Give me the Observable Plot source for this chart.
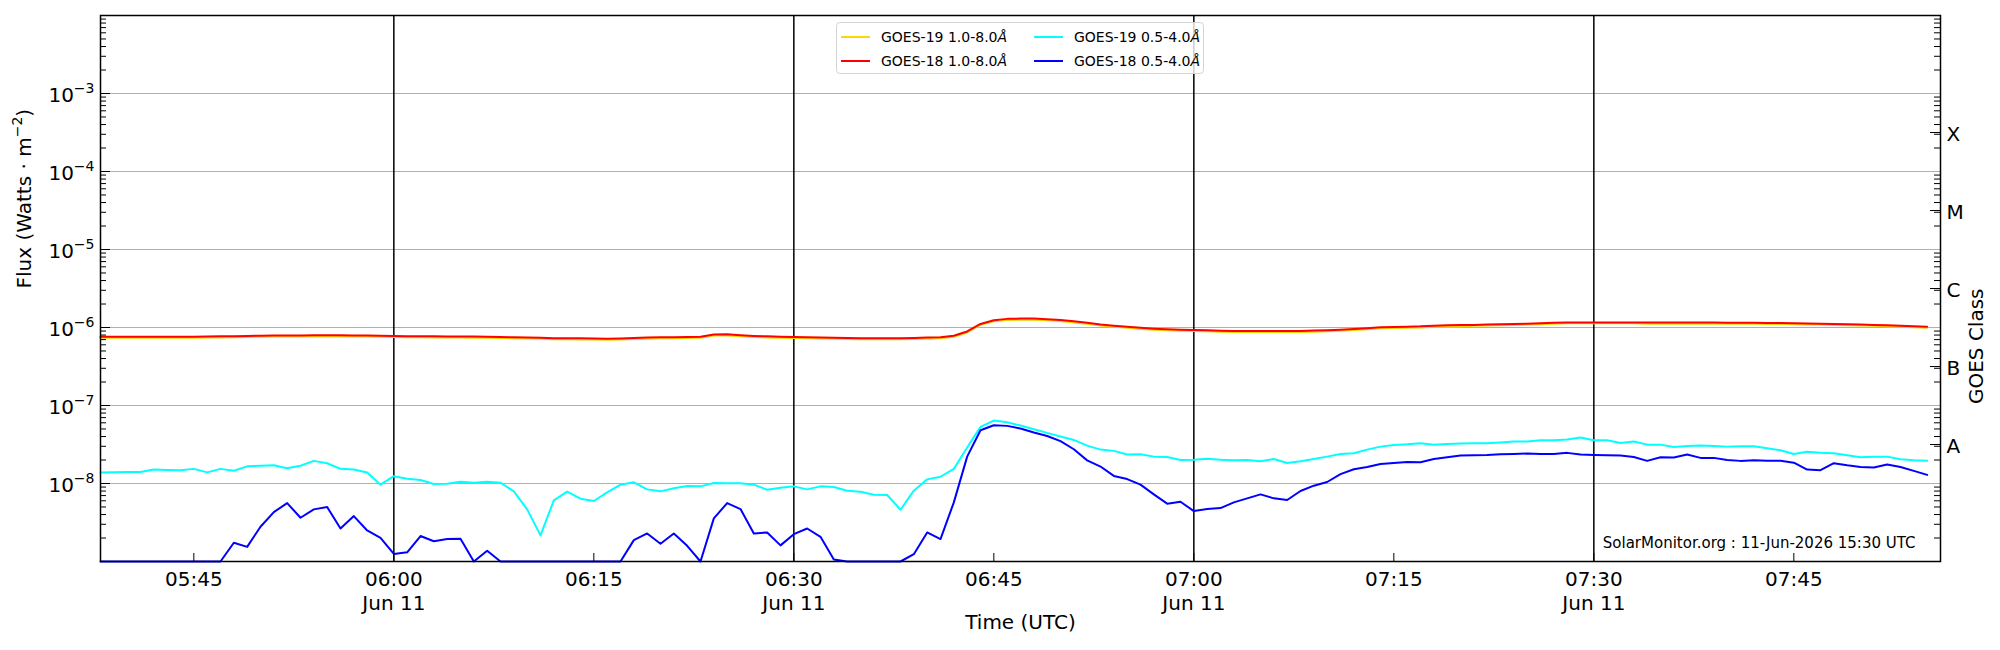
<!DOCTYPE html>
<html>
<head>
<meta charset="utf-8">
<script src="https://cdn.jsdelivr.net/npm/d3@7"></script>
<script src="https://cdn.jsdelivr.net/npm/@observablehq/plot@0.6"></script>
<style>
  body { margin: 0; background: #fff; }
  #wrap { position: relative; width: 2000px; height: 650px; font-family: "DejaVu Sans", sans-serif; color: #000; }
  #legend { position: absolute; left: 836px; top: 22px; width: 366px; height: 50px; border: 1px solid #d4d4d4; border-radius: 4px; background: rgba(255,255,255,0.8); }
  .li { position: absolute; height: 18px; line-height: 18px; font-size: 14px; white-space: nowrap; }
  .sw { position: absolute; height: 2px; }
</style>
</head>
<body>
<div id="wrap"><div id="chart"></div><div id="legend"></div></div>
<script>
// ---- data (1-minute samples from 05:38 UTC, 11 Jun 2026) ----
const startTime = Date.UTC(2026, 5, 11, 5, 38);
const xDomainLabels = ["05:38", "07:56"];

const goes18Long = [
  7.62e-7,7.62e-7,7.60e-7,7.60e-7,7.60e-7,7.60e-7,7.62e-7,7.62e-7,7.65e-7,7.70e-7,7.75e-7,
  7.80e-7,7.85e-7,7.88e-7,7.90e-7,7.92e-7,7.93e-7,7.93e-7,7.93e-7,7.92e-7,7.90e-7,7.85e-7,
  7.78e-7,7.75e-7,7.72e-7,7.70e-7,7.68e-7,7.66e-7,7.64e-7,7.60e-7,7.55e-7,7.50e-7,
  7.45e-7,7.38e-7,7.30e-7,7.28e-7,7.26e-7,7.25e-7,7.20e-7,7.25e-7,7.35e-7,7.42e-7,
  7.48e-7,7.52e-7,7.58e-7,7.60e-7,8.15e-7,8.17e-7,7.95e-7,7.80e-7,7.70e-7,7.62e-7,
  7.55e-7,7.50e-7,7.45e-7,7.40e-7,7.35e-7,7.30e-7,7.28e-7,7.28e-7,7.30e-7,7.35e-7,
  7.42e-7,7.52e-7,7.85e-7,8.90e-7,1.11e-6,1.24e-6,1.29e-6,1.30e-6,1.30e-6,1.28e-6,
  1.25e-6,1.20e-6,1.15e-6,1.09e-6,1.05e-6,1.02e-6,9.90e-7,9.65e-7,9.48e-7,9.38e-7,
  9.30e-7,9.22e-7,9.10e-7,9.05e-7,9.02e-7,9.02e-7,9.02e-7,9.02e-7,9.05e-7,9.12e-7,
  9.20e-7,9.35e-7,9.55e-7,9.80e-7,1.005e-6,1.015e-6,1.025e-6,1.035e-6,1.055e-6,1.065e-6,
  1.075e-6,1.08e-6,1.09e-6,1.10e-6,1.11e-6,1.12e-6,1.13e-6,1.15e-6,1.16e-6,1.16e-6,
  1.16e-6,1.16e-6,1.16e-6,1.16e-6,1.155e-6,1.155e-6,1.155e-6,1.155e-6,1.155e-6,1.155e-6,
  1.15e-6,1.15e-6,1.15e-6,1.145e-6,1.14e-6,1.13e-6,1.125e-6,1.12e-6,1.11e-6,1.10e-6,
  1.09e-6,1.08e-6,1.07e-6,1.055e-6,1.04e-6,1.025e-6
];
const goes19Long = [
  7.39e-7,7.39e-7,7.37e-7,7.37e-7,7.37e-7,7.37e-7,7.39e-7,7.39e-7,7.42e-7,7.47e-7,7.52e-7,
  7.57e-7,7.61e-7,7.64e-7,7.66e-7,7.68e-7,7.69e-7,7.69e-7,7.69e-7,7.68e-7,7.66e-7,7.61e-7,
  7.55e-7,7.52e-7,7.49e-7,7.47e-7,7.45e-7,7.43e-7,7.41e-7,7.37e-7,7.32e-7,7.28e-7,
  7.23e-7,7.16e-7,7.08e-7,7.06e-7,7.04e-7,7.03e-7,6.98e-7,7.03e-7,7.13e-7,7.20e-7,
  7.26e-7,7.29e-7,7.35e-7,7.37e-7,7.91e-7,7.92e-7,7.71e-7,7.57e-7,7.47e-7,7.39e-7,
  7.32e-7,7.28e-7,7.23e-7,7.18e-7,7.13e-7,7.08e-7,7.06e-7,7.06e-7,7.08e-7,7.13e-7,
  7.20e-7,7.29e-7,7.61e-7,8.63e-7,1.08e-6,1.20e-6,1.25e-6,1.26e-6,1.26e-6,1.24e-6,
  1.21e-6,1.16e-6,1.12e-6,1.06e-6,1.02e-6,9.89e-7,9.60e-7,9.36e-7,9.20e-7,9.10e-7,
  9.02e-7,8.94e-7,8.83e-7,8.78e-7,8.75e-7,8.75e-7,8.75e-7,8.75e-7,8.78e-7,8.85e-7,
  8.92e-7,9.07e-7,9.26e-7,9.51e-7,9.75e-7,9.85e-7,9.94e-7,1.00e-6,1.02e-6,1.03e-6,
  1.04e-6,1.05e-6,1.06e-6,1.07e-6,1.08e-6,1.09e-6,1.10e-6,1.12e-6,1.13e-6,1.13e-6,
  1.13e-6,1.13e-6,1.13e-6,1.13e-6,1.12e-6,1.12e-6,1.12e-6,1.12e-6,1.12e-6,1.12e-6,
  1.12e-6,1.12e-6,1.12e-6,1.11e-6,1.11e-6,1.10e-6,1.09e-6,1.09e-6,1.08e-6,1.07e-6,
  1.06e-6,1.05e-6,1.04e-6,1.02e-6,1.01e-6,9.94e-7
];
const goes19Short = [
  1.38e-8,1.39e-8,1.40e-8,1.40e-8,1.51e-8,1.49e-8,1.48e-8,1.54e-8,1.39e-8,1.54e-8,1.46e-8,
  1.66e-8,1.69e-8,1.71e-8,1.57e-8,1.69e-8,1.95e-8,1.82e-8,1.54e-8,1.51e-8,1.38e-8,9.66e-9,
  1.24e-8,1.15e-8,1.11e-8,9.85e-9,9.95e-9,1.056e-8,1.025e-8,1.056e-8,1.025e-8,7.93e-9,
  4.66e-9,2.16e-9,6.08e-9,7.85e-9,6.38e-9,5.96e-9,7.70e-9,9.66e-9,1.035e-8,8.41e-9,
  7.93e-9,8.67e-9,9.29e-9,9.19e-9,1.014e-8,1.005e-8,1.005e-8,9.66e-9,8.33e-9,8.84e-9,
  9.19e-9,8.41e-9,9.19e-9,9.02e-9,8.09e-9,7.85e-9,7.19e-9,7.12e-9,4.61e-9,8.09e-9,
  1.13e-8,1.22e-8,1.54e-8,2.89e-8,5.32e-8,6.41e-8,6.11e-8,5.53e-8,4.97e-8,4.46e-8,
  4.00e-8,3.62e-8,3.06e-8,2.72e-8,2.62e-8,2.35e-8,2.37e-8,2.21e-8,2.19e-8,2.00e-8,
  2.02e-8,2.08e-8,2.02e-8,1.98e-8,2.00e-8,1.93e-8,2.06e-8,1.83e-8,1.93e-8,2.06e-8,
  2.21e-8,2.39e-8,2.44e-8,2.72e-8,2.97e-8,3.12e-8,3.18e-8,3.28e-8,3.15e-8,3.22e-8,
  3.25e-8,3.28e-8,3.28e-8,3.35e-8,3.45e-8,3.45e-8,3.59e-8,3.59e-8,3.66e-8,3.88e-8,
  3.59e-8,3.59e-8,3.31e-8,3.45e-8,3.15e-8,3.15e-8,2.94e-8,3.03e-8,3.06e-8,3.03e-8,
  2.97e-8,3.00e-8,3.00e-8,2.83e-8,2.67e-8,2.39e-8,2.56e-8,2.47e-8,2.44e-8,2.30e-8,
  2.17e-8,2.21e-8,2.21e-8,2.04e-8,1.98e-8,1.96e-8
];
const goes18Short = [
  1.0e-9,1.0e-9,1.0e-9,1.0e-9,1.0e-9,1.0e-9,1.0e-9,1.0e-9,1.0e-9,1.0e-9,1.74e-9,
  1.54e-9,2.79e-9,4.30e-9,5.61e-9,3.64e-9,4.66e-9,4.99e-9,2.65e-9,3.82e-9,2.50e-9,2.01e-9,
  1.25e-9,1.31e-9,2.12e-9,1.82e-9,1.94e-9,1.96e-9,1.0e-9,1.37e-9,1.0e-9,1.0e-9,
  1.0e-9,1.0e-9,1.0e-9,1.0e-9,1.0e-9,1.0e-9,1.0e-9,1.0e-9,1.88e-9,2.29e-9,
  1.69e-9,2.29e-9,1.59e-9,1.0e-9,3.57e-9,5.61e-9,4.70e-9,2.29e-9,2.36e-9,1.61e-9,
  2.24e-9,2.65e-9,2.07e-9,1.06e-9,1.0e-9,1.0e-9,1.0e-9,1.0e-9,1.0e-9,1.24e-9,
  2.36e-9,1.94e-9,5.73e-9,2.21e-8,4.82e-8,5.59e-8,5.48e-8,5.06e-8,4.50e-8,4.07e-8,
  3.50e-8,2.75e-8,1.98e-8,1.65e-8,1.25e-8,1.14e-8,9.66e-9,7.26e-9,5.51e-9,5.84e-9,
  4.43e-9,4.70e-9,4.84e-9,5.73e-9,6.45e-9,7.26e-9,6.45e-9,6.14e-9,8.01e-9,9.38e-9,
  1.045e-8,1.32e-8,1.52e-8,1.63e-8,1.78e-8,1.83e-8,1.89e-8,1.87e-8,2.06e-8,2.17e-8,
  2.28e-8,2.30e-8,2.32e-8,2.37e-8,2.39e-8,2.42e-8,2.39e-8,2.39e-8,2.47e-8,2.35e-8,
  2.32e-8,2.30e-8,2.28e-8,2.19e-8,1.95e-8,2.17e-8,2.15e-8,2.35e-8,2.13e-8,2.13e-8,
  2.00e-8,1.95e-8,1.98e-8,1.96e-8,1.96e-8,1.85e-8,1.51e-8,1.48e-8,1.82e-8,1.71e-8,
  1.63e-8,1.60e-8,1.75e-8,1.63e-8,1.45e-8,1.29e-8
];

const seriesNames = ["GOES-19 1.0-8.0", "GOES-18 1.0-8.0", "GOES-19 0.5-4.0", "GOES-18 0.5-4.0"];
const seriesColors = ["#ffd700", "#ff0000", "#00ffff", "#0000ff"];
const seriesData = [goes19Long, goes18Long, goes19Short, goes18Short];

const xTickLabels = ["05:45","06:00","06:15","06:30","06:45","07:00","07:15","07:30","07:45"];
const dateLine = "Jun 11";
const markerTimes = ["06:00","06:30","07:00","07:30"];
const yTickValues = [1e-8, 1e-7, 1e-6, 1e-5, 1e-4, 1e-3];
const yTickLabels = ["10⁻⁸","10⁻⁷","10⁻⁶","10⁻⁵","10⁻⁴","10⁻³"];
const classLabels = ["A","B","C","M","X"];
const classValues = [3.16e-8, 3.16e-7, 3.16e-6, 3.16e-5, 3.16e-4];
const yDomain = [1e-9, 1e-2];
const xLabel = "Time (UTC)";
const yLabel = "Flux (Watts · m⁻²)";
const y2Label = "GOES Class";
const credit = "SolarMonitor.org : 11-Jun-2026 15:30 UTC";

// ---- build ----
const hm = s => { const [h, m] = s.split(":").map(Number); return new Date(Date.UTC(2026, 5, 11, h, m)); };
const rowsOf = arr => arr.map((v, i) => ({ t: new Date(startTime + i * 60000), v }));

const decades = d3.range(-9, -1).map(k => Math.pow(10, k));
const minors = [];
for (let k = -9; k < -2; k++) for (let m = 2; m <= 9; m++) minors.push(m * Math.pow(10, k));

const W = 2000, H = 650, mL = 100, mR = 60, mT = 15, mB = 89;
const pw = W - mL - mR, ph = H - mT - mB;

const marks = [
  Plot.ruleY(decades.slice(1, -1), { stroke: "#b0b0b0", strokeWidth: 1.2 }),
  Plot.ruleX(markerTimes.map(hm), { stroke: "black", strokeWidth: 1.5 })
];
seriesData.forEach((arr, i) => {
  marks.push(Plot.line(rowsOf(arr), { x: "t", y: "v", stroke: seriesColors[i], strokeWidth: 2 }));
});
marks.push(
  // inward ticks
  Plot.tickY(minors, { y: d => d, insetRight: pw - 6, stroke: "black", strokeWidth: 1 }),
  Plot.tickY(decades, { y: d => d, insetRight: pw - 10, stroke: "black", strokeWidth: 1 }),
  Plot.tickY(minors, { y: d => d, insetLeft: pw - 6, stroke: "black", strokeWidth: 1 }),
  Plot.tickY(classValues, { y: d => d, insetLeft: pw - 10, stroke: "black", strokeWidth: 1 }),
  Plot.tickX(xTickLabels.map(hm), { x: d => d, insetTop: ph - 8, stroke: "black", strokeWidth: 1 }),
  Plot.frame({ stroke: "black", strokeWidth: 1.5 }),
  // tick labels
  Plot.text(yTickLabels, { y: (d, i) => yTickValues[i], text: d => d, frameAnchor: "left", dx: -6, dy: 2, textAnchor: "end", fontSize: 20 }),
  Plot.text(classLabels, { y: (d, i) => classValues[i], text: d => d, frameAnchor: "right", dx: 6, dy: 2, textAnchor: "start", fontSize: 20 }),
  Plot.text(xTickLabels, {
    x: d => hm(d),
    text: d => (d.endsWith(":00") || d.endsWith(":30")) ? d + "\n" + dateLine : d,
    frameAnchor: "bottom", dy: 8, lineAnchor: "top", lineHeight: 1.17, fontSize: 20
  }),
  // axis titles
  Plot.text([xLabel], { frameAnchor: "bottom", dy: 67, fontSize: 20 }),
  Plot.text([yLabel], { frameAnchor: "left", dx: -76, rotate: -90, fontSize: 20 }),
  Plot.text([y2Label], { frameAnchor: "right", dx: 36, rotate: -90, fontSize: 20 }),
  Plot.text([credit], { frameAnchor: "bottom-right", dx: -25, dy: -14, textAnchor: "end", fontSize: 15 })
);

const chart = Plot.plot({
  width: W, height: H,
  marginLeft: mL, marginRight: mR, marginTop: mT, marginBottom: mB,
  style: { fontFamily: "DejaVu Sans", background: "white", color: "black", overflow: "visible" },
  x: { type: "utc", domain: xDomainLabels.map(hm), axis: null },
  y: { type: "log", domain: yDomain, axis: null },
  marks
});
document.getElementById("chart").appendChild(chart);

// render unicode superscripts as raised, smaller tspans (like mathtext)
const supMap = {"⁻":"−","⁰":"0","¹":"1","²":"2","³":"3","⁴":"4","⁵":"5","⁶":"6","⁷":"7","⁸":"8","⁹":"9"};
chart.querySelectorAll("text").forEach(el => {
  if (el.querySelector("tspan")) return;
  const s = el.textContent;
  if (![...s].some(ch => ch in supMap)) return;
  const runs = [];
  for (const ch of s) {
    const sup = ch in supMap, c = sup ? supMap[ch] : ch;
    if (runs.length && runs[runs.length - 1].sup === sup) runs[runs.length - 1].text += c;
    else runs.push({ sup, text: c });
  }
  el.textContent = "";
  let shift = 0;
  runs.forEach(r => {
    const ts = document.createElementNS("http://www.w3.org/2000/svg", "tspan");
    ts.textContent = r.text;
    const target = r.sup ? -9 : 0;
    if (target - shift) ts.setAttribute("dy", target - shift);
    shift = target;
    if (r.sup) ts.setAttribute("font-size", 14);
    el.appendChild(ts);
  });
});

// legend (2 columns, column-major)
const legend = document.getElementById("legend");
const pos = [[0, 0], [0, 1], [1, 0], [1, 1]];
seriesNames.forEach((name, i) => {
  const [c, r] = pos[i];
  const left = c === 0 ? 4 : 197;
  const cy = r === 0 ? 14 : 38;
  const sw = document.createElement("div");
  sw.className = "sw";
  sw.style.left = left + "px"; sw.style.width = "29px"; sw.style.top = (cy - 1) + "px";
  sw.style.background = seriesColors[i];
  legend.appendChild(sw);
  const t = document.createElement("div");
  t.className = "li";
  t.style.left = (left + 40) + "px"; t.style.top = (cy - 9) + "px";
  t.innerHTML = name + "<i>Å</i>";
  legend.appendChild(t);
});
</script>
</body>
</html>
